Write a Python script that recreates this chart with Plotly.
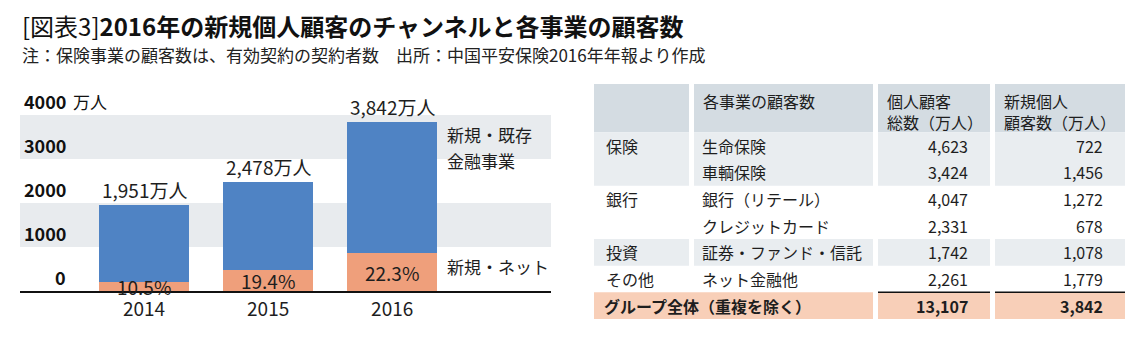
import plotly.graph_objects as go

# ---------------- data ----------------
years = ["2014", "2015", "2016"]
total_customers = [1951, 2478, 3842]          # 万人
net_share_pct = [10.5, 19.4, 22.3]            # % of new customers via internet
net_customers = [205, 481, 857]               # 万人 (total x share)
other_customers = [t - n for t, n in zip(total_customers, net_customers)]
y_tick_values = [0, 1000, 2000, 3000, 4000]
y_tick_labels = ["0", "1000", "2000", "3000", "4000"]

table_groups = ["保険", "", "銀行", "", "投資", "その他"]
table_business = ["生命保険", "車輌保険", "銀行（リテール）", "クレジットカード", "証券・ファンド・信託", "ネット金融他"]
table_total_clients = [4623, 3424, 4047, 2331, 1742, 2261]
table_new_clients = [722, 1456, 1272, 678, 1078, 1779]
table_row_shaded = [True, True, False, False, True, False]
table_headers = ["", "各事業の顧客数", "個人顧客<br>総数（万人）", "新規個人<br>顧客数（万人）"]
group_total_label = "グループ全体（重複を除く）"
group_total_clients = 13107
group_total_new = 3842

# ---------------- style ----------------
FONT = "Noto Sans CJK JP"
TXT = "#1e1e1e"
BLUE = "#4f83c4"
ORANGE = "#ef9f7b"
BAND = "#e8ebee"
HEAD = "#d4dce2"
ROWG = "#e9edf0"
PEACH = "#f8cfb8"
W, H = 1133, 347

fig = go.Figure()
fig.add_trace(go.Bar(x=years, y=net_customers, marker=dict(color=ORANGE, line=dict(width=0)),
                     width=0.726, hoverinfo="skip", showlegend=False))
fig.add_trace(go.Bar(x=years, y=other_customers, marker=dict(color=BLUE, line=dict(width=0)),
                     width=0.726, hoverinfo="skip", showlegend=False))

shapes = []
annotations = []

# chart bands
for lo, hi in [(1000, 2000), (3000, 4000)]:
    shapes.append(dict(type="rect", xref="x domain", yref="y", x0=0, x1=1, y0=lo, y1=hi,
                       fillcolor=BAND, line=dict(width=0), layer="below"))

# y tick labels (above gridlines)
for v, lab in zip(y_tick_values, y_tick_labels):
    annotations.append(dict(xref="paper", yref="y", x=68 / W, y=v, xanchor="right", yanchor="bottom",
                            text=f"<b>{lab}</b>", showarrow=False, yshift=-1,
                            font=dict(family=FONT, size=18, color="#111")))
annotations.append(dict(xref="paper", yref="y", x=71 / W, y=y_tick_values[-1], xanchor="left", yanchor="bottom",
                        text="万人", showarrow=False, yshift=-1,
                        font=dict(family=FONT, size=17, color="#111")))

# bar labels (category index positions)
for i, (t, n, p) in enumerate(zip(total_customers, net_customers, net_share_pct)):
    annotations.append(dict(xref="x", yref="y", x=i, y=t, yanchor="bottom", text=f"{t:,}万人",
                            showarrow=False, yshift=0, font=dict(family=FONT, size=19, color=TXT)))
    annotations.append(dict(xref="x", yref="y", x=i, y=n / 2, yanchor="middle", text=f"{p}%",
                            showarrow=False, font=dict(family=FONT, size=19, color=TXT)))

# series labels
annotations.append(dict(xref="paper", yref="paper", x=445 / W, y=1 - 135 / H, xanchor="left", yanchor="middle",
                        text="新規・既存", showarrow=False, font=dict(family=FONT, size=17, color=TXT)))
annotations.append(dict(xref="paper", yref="paper", x=445 / W, y=1 - 160 / H, xanchor="left", yanchor="middle",
                        text="金融事業", showarrow=False, font=dict(family=FONT, size=17, color=TXT)))
annotations.append(dict(xref="paper", yref="paper", x=445 / W, y=1 - 266 / H, xanchor="left", yanchor="middle",
                        text="新規・ネット", showarrow=False, font=dict(family=FONT, size=17, color=TXT)))

# title
annotations.append(dict(xref="paper", yref="paper", x=20 / W, y=1 - 25 / H, xanchor="left", yanchor="middle",
                        text="[図表3]<b>2016年の新規個人顧客のチャンネルと各事業の顧客数</b>", showarrow=False,
                        font=dict(family=FONT, size=24, color="#111")))
annotations.append(dict(xref="paper", yref="paper", x=20 / W, y=1 - 54 / H, xanchor="left", yanchor="middle",
                        text="注：保険事業の顧客数は、有効契約の契約者数　出所：中国平安保険2016年年報より作成",
                        showarrow=False, font=dict(family=FONT, size=17, color="#222")))

# ---------------- table on its own axes ----------------
col_start = [0, 100, 284, 401]
col_width = [95, 179, 112, 130]
col_end = [s + w for s, w in zip(col_start, col_width)]
head_h = 1.81
n_rows = len(table_business)

def cell(x0, x1, y0, y1, color):
    shapes.append(dict(type="rect", xref="x2", yref="y2", x0=x0, x1=x1, y0=y0, y1=y1,
                       fillcolor=color, line=dict(width=0), layer="below"))

for c in range(4):
    cell(col_start[c], col_end[c], -head_h, 0, HEAD)
for r, shaded in enumerate(table_row_shaded):
    if shaded:
        for c in range(4):
            cell(col_start[c], col_end[c], r, r + 1, ROWG)
cell(col_start[0], col_end[1], n_rows, n_rows + 1, PEACH)
cell(col_start[2], col_end[2], n_rows, n_rows + 1, PEACH)
cell(col_start[3], col_end[3], n_rows, n_rows + 1, PEACH)
for c in (2, 3):
    shapes.append(dict(type="line", xref="x2", yref="y2", x0=col_start[c], x1=col_end[c], y0=n_rows, y1=n_rows,
                       line=dict(color="#111", width=1.5)))

TF = dict(family=FONT, size=16, color=TXT)
# headers
for c, text in enumerate(table_headers):
    if text:
        annotations.append(dict(xref="x2", yref="y2", x=col_start[c] + 7, y=-head_h, yshift=-3,
                                xanchor="left", yanchor="top", align="left", text=text, showarrow=False, font=TF))
for r in range(n_rows):
    yc = r + 0.5
    if table_groups[r]:
        annotations.append(dict(xref="x2", yref="y2", x=col_start[0] + 10, y=yc, xanchor="left", yanchor="middle",
                                text=table_groups[r], showarrow=False, font=TF))
    annotations.append(dict(xref="x2", yref="y2", x=col_start[1] + 6, y=yc, xanchor="left", yanchor="middle",
                            text=table_business[r], showarrow=False, font=TF))
    annotations.append(dict(xref="x2", yref="y2", x=col_end[2] - 20, y=yc, xanchor="right", yanchor="middle",
                            text=f"{table_total_clients[r]:,}", showarrow=False, font=TF))
    annotations.append(dict(xref="x2", yref="y2", x=col_end[3] - 20, y=yc, xanchor="right", yanchor="middle",
                            text=f"{table_new_clients[r]:,}", showarrow=False, font=TF))
yc = n_rows + 0.5
annotations.append(dict(xref="x2", yref="y2", x=col_start[0] + 8, y=yc, xanchor="left", yanchor="middle",
                        text=f"<b>{group_total_label}</b>", showarrow=False, font=TF))
annotations.append(dict(xref="x2", yref="y2", x=col_end[2] - 20, y=yc, xanchor="right", yanchor="middle",
                        text=f"<b>{group_total_clients:,}</b>", showarrow=False, font=TF))
annotations.append(dict(xref="x2", yref="y2", x=col_end[3] - 20, y=yc, xanchor="right", yanchor="middle",
                        text=f"<b>{group_total_new:,}</b>", showarrow=False, font=TF))

fig.update_layout(
    width=W, height=H, margin=dict(l=0, r=0, t=0, b=0),
    paper_bgcolor="white", plot_bgcolor="rgba(0,0,0,0)",
    barmode="stack", bargap=0, showlegend=False,
    font=dict(family=FONT, color=TXT),
    xaxis=dict(domain=[20 / W, 551 / W], type="category", range=[-1.0, 3.28], showgrid=False, zeroline=False,
               showline=True, linecolor="#111", linewidth=1.5, ticks="", fixedrange=True,
               tickfont=dict(family=FONT, size=19, color=TXT)),
    yaxis=dict(domain=[1 - 291 / H, 1 - 115 / H], range=[0, 4000], showgrid=False, zeroline=False,
               showticklabels=False, fixedrange=True),
    xaxis2=dict(domain=[594 / W, 1125 / W], range=[0, col_end[3]], visible=False, anchor="y2", fixedrange=True),
    yaxis2=dict(domain=[1 - 319 / H, 1 - 84 / H], range=[n_rows + 1, -head_h], visible=False, anchor="x2",
                fixedrange=True),
    shapes=shapes, annotations=annotations,
)

fig.write_html("out.html")
